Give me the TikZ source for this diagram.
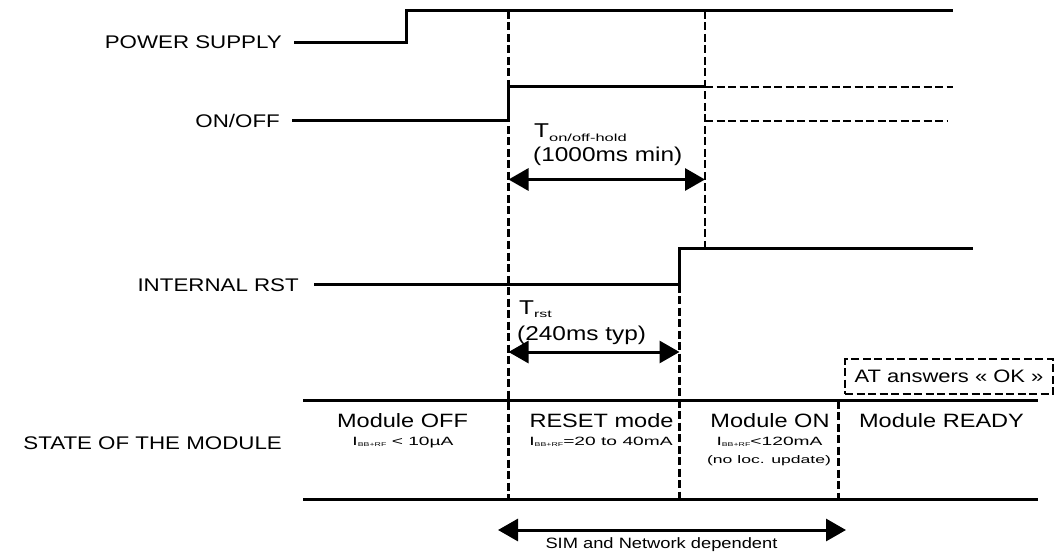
\documentclass[tikz,border=0pt]{standalone}
\usepackage{fontspec}
\setmainfont{Liberation Sans}[FakeStretch=1.22]
\newfontfamily\wideB{Liberation Sans}[FakeStretch=1.6]
\usetikzlibrary{arrows.meta}
\newcommand\fs[1]{\fontsize{#1}{#1}\selectfont}
\newcommand\lowsub[3]{\raisebox{-#1pt}{\wideB\fs{#2}#3}}
\begin{document}
\begin{tikzpicture}[x=1pt,y=-1pt,
  sig/.style={line width=3pt, line join=miter},
  guide/.style={line width=2.4pt, dash pattern=on 8pt off 3.5pt},
  dsig/.style={line width=2.6pt, dash pattern=on 8pt off 3.5pt},
  dimarrow/.style={line width=3pt, {Triangle[length=20pt,width=22pt]}-{Triangle[length=20pt,width=22pt]}},
  lab/.style={inner sep=0pt, anchor=base east, font=\fs{18.3}},
  title/.style={inner sep=0pt, anchor=base, font=\fs{19.3}},
  small/.style={inner sep=0pt, anchor=base, font=\wideB\fs{12}},
  timelab/.style={inner sep=0pt, anchor=base west, font=\fs{20}},
  ]
\useasboundingbox (0,0) rectangle (1060,556);
% key coordinates
\coordinate (ps0) at (294,43);
\coordinate (ps1) at (406,43);
\coordinate (ps2) at (406,11);
\coordinate (ps3) at (953,11);
\coordinate (oo0) at (292,121);
\coordinate (oo1) at (508.5,121);
\coordinate (oo2) at (508.5,87);
\coordinate (oo3) at (705,87);
\coordinate (oo4) at (953,87);
\coordinate (oo5) at (705,121);
\coordinate (oo6) at (948,121);
\coordinate (ir0) at (314,284.5);
\coordinate (ir1) at (679.5,284.5);
\coordinate (ir2) at (679.5,248.5);
\coordinate (ir3) at (973,248.5);
\coordinate (g1t) at (508.5,11);
\coordinate (g1b) at (508.5,499);
\coordinate (g2t) at (705,11);
\coordinate (g2b) at (705,248.5);
\coordinate (g3b) at (679.5,499);
\coordinate (g4t) at (838.5,400.5);
\coordinate (g4b) at (838.5,499);
\coordinate (st0) at (303,400.5);
\coordinate (st1) at (1038,400.5);
\coordinate (sb0) at (303,499);
\coordinate (sb1) at (1038,499);
\coordinate (a1l) at (508.5,179.5);
\coordinate (a1r) at (705,179.5);
\coordinate (a2l) at (508.5,352);
\coordinate (a2r) at (679.5,352);
\coordinate (a3l) at (498,530);
\coordinate (a3r) at (846,530);
% guides
\draw[guide] (g1t) -- (g1b);
\draw[guide] (g2t) -- (g2b);
\draw[guide] (ir1) -- (g3b);
\draw[guide] (g4t) -- (g4b);
% signals
\draw[sig] (ps0) -- (ps1) -- (ps2) -- (ps3);
\draw[sig] (oo0) -- (oo1) -- (oo2) -- (oo3);
\draw[dsig] (oo3) -- (oo4);
\draw[dsig] (oo5) -- (oo6);
\draw[sig] (ir0) -- (ir1) -- (ir2) -- (ir3);
\draw[sig] (st0) -- (st1);
\draw[sig] (sb0) -- (sb1);
% dimension arrows
\draw[dimarrow] (a1l) -- (a1r);
\draw[dimarrow] (a2l) -- (a2r);
\draw[dimarrow] (a3l) -- (a3r);
% signal labels
\node[lab] (lps) at (282,48.5) {POWER SUPPLY};
\node[lab] (loo) at (280,127.5) {ON/OFF};
\node[lab] (lir) at (299,291.5) {INTERNAL RST};
\node[lab] (lst) at (282,449.5) {STATE OF THE MODULE};
% timing labels
\node[timelab] (ton) at (534,138) {T\lowsub{4}{10.3}{on/off-hold}};
\node[timelab] (tonv) at (533,162) {(1000ms min)};
\node[timelab] (trst) at (519,314) {T\lowsub{3}{10}{rst}};
\node[timelab] (trstv) at (517,340.5) {(240ms typ)};
% AT box
\node[draw, line width=2.4pt, dash pattern=on 8pt off 3.5pt, minimum width=208pt, minimum height=35pt, inner sep=0pt] (atbox) at (949,376.5) {};
\node[inner sep=0pt, anchor=base, font=\fs{18}] (attxt) at (949,382.5) {AT answers « OK »};
% states
\node[title] (soff) at (402.5,427) {Module OFF};
\node[small] (soffi) at (403,445.5) {I\lowsub{1}{5.5}{BB+RF} < 10µA};
\node[title] (sres) at (601.5,427) {RESET mode};
\node[small] (sresi) at (601,445.5) {I\lowsub{1}{5.5}{BB+RF}=20 to 40mA};
\node[title] (son) at (770,427) {Module ON};
\node[small] (soni) at (769.5,445.5) {I\lowsub{1}{5.5}{BB+RF}<120mA};
\node[small, font=\wideB\fs{11}] (sonl) at (769,463) {(no loc. update)};
\node[title] (srdy) at (941.5,427) {Module READY};
% bottom label
\node[inner sep=0pt, anchor=base, font=\fs{15}] (sim) at (661.5,548.5) {SIM and Network dependent};
\end{tikzpicture}
\end{document}
